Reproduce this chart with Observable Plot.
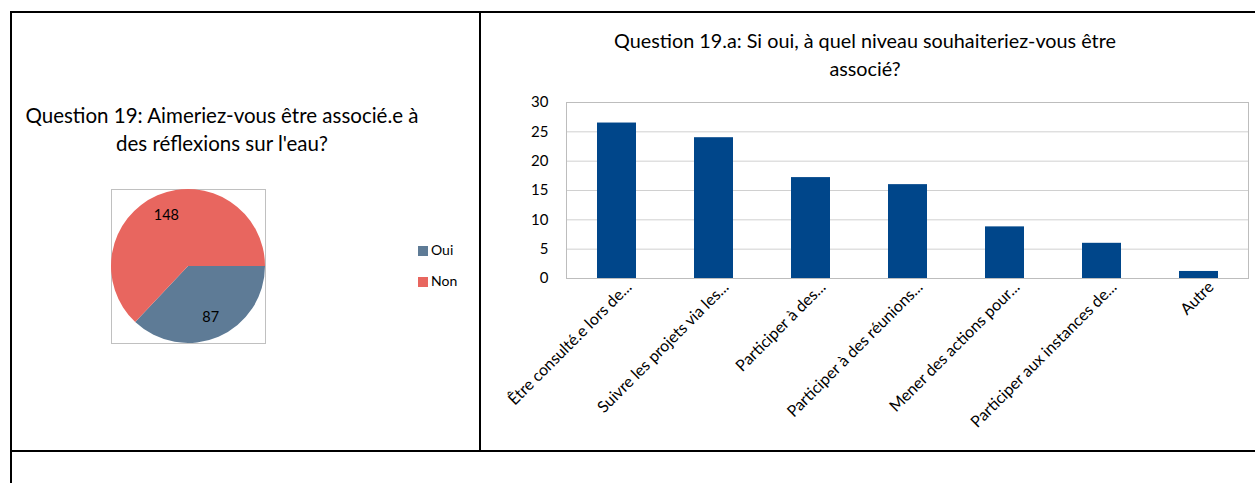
<!DOCTYPE html>
<html>
<head>
<meta charset="utf-8">
<script src="https://cdn.jsdelivr.net/npm/d3@7"></script>
<script src="https://cdn.jsdelivr.net/npm/@observablehq/plot@0.6"></script>
<style>
  html, body { margin: 0; padding: 0; background: #fff; }
  body { width: 1255px; height: 483px; position: relative; overflow: hidden; font-family: Lato, "Open Sans", sans-serif; color: #000; }
  .line { position: absolute; background: #000; }
  .title { position: absolute; text-align: center; line-height: 28px; white-space: nowrap; }
  .abs { position: absolute; }
  .legend { position: absolute; font-size: 14px; }
  .legend .item { position: absolute; white-space: nowrap; }
  .legend .sw { display: inline-block; width: 10px; height: 10px; margin-right: 3px; vertical-align: -1px; }
</style>
</head>
<body>
<div class="line" style="left:10px; top:11px; width:1245px; height:2px;"></div>
<div class="line" style="left:10px; top:11px; width:2px; height:472px;"></div>
<div class="line" style="left:479px; top:11px; width:2px; height:441px;"></div>
<div class="line" style="left:10px; top:450px; width:1245px; height:2px;"></div>

<div class="title" style="left:22px; width:400px; top:101px; font-size:20.5px;">Question 19: Aimeriez-vous être associé.e à<br>des réflexions sur l'eau?</div>
<div class="title" style="left:565px; width:600px; top:26px; font-size:19.8px;">Question 19.a: Si oui, à quel niveau souhaiteriez-vous être<br>associé?</div>

<div id="pie" class="abs" style="left:111px; top:189px;"></div>
<div id="legend" class="legend" style="left:418px; top:0px;"></div>
<div id="bars" class="abs" style="left:480px; top:90px;"></div>

<script>
// ---- Data ----
const pieLabels = ["Oui", "Non"];
const pieValues = [87, 148];
const pieColors = ["#5E7B96", "#E8665F"];

const categories = [
  "Être consulté.e lors de...",
  "Suivre les projets via les...",
  "Participer à des...",
  "Participer à des réunions...",
  "Mener des actions pour...",
  "Participer aux instances de...",
  "Autre"
];
const values = [26.5, 24.0, 17.2, 16.0, 8.8, 6.0, 1.2];
const yTicks = [0, 5, 10, 15, 20, 25, 30];

// ---- Pie ----
const arcs = d3.pie().sort(null).startAngle(Math.PI / 2).endAngle(Math.PI * 2.5)(pieValues);
const labelArc = d3.arc().innerRadius(0).outerRadius(1.45);
const pieData = arcs.map((a, i) => {
  const c = labelArc.centroid(a);
  return { label: pieLabels[i], value: pieValues[i], a, cx: c[0], cy: -c[1], color: pieColors[i] };
});

function pieSlices(index, scales) {
  const cx = scales.x(0), cy = scales.y(0), r = scales.x(1) - scales.x(0);
  const arc = d3.arc().innerRadius(0).outerRadius(r);
  const g = d3.create("svg:g").attr("transform", `translate(${cx},${cy})`);
  g.selectAll("path").data(pieData).join("path")
    .attr("d", d => arc(d.a))
    .attr("fill", d => d.color);
  return g.node();
}

const pie = Plot.plot({
  width: 154, height: 154,
  margin: 0,
  x: { domain: [-1, 1], axis: null },
  y: { domain: [-1, 1], axis: null },
  style: { fontFamily: "Lato, 'Open Sans', sans-serif", background: "transparent", overflow: "visible" },
  marks: [
    Plot.frame({ stroke: "#c0c0c0" }),
    pieSlices,
    Plot.text(pieData, { x: "cx", y: "cy", text: d => String(d.value), fontSize: 14.5, fill: "#000" })
  ]
});
document.getElementById("pie").appendChild(pie);

// legend
const legend = document.getElementById("legend");
const legendTops = [241, 272];
pieLabels.forEach((l, i) => {
  const it = document.createElement("div");
  it.className = "item";
  it.style.top = legendTops[i] + "px";
  it.innerHTML = `<span class="sw" style="background:${pieColors[i]}"></span>${l}`;
  legend.appendChild(it);
});

// ---- Bars ----
const barData = categories.map((c, i) => ({ cat: c, value: values[i] }));
const bars = Plot.plot({
  width: 775, height: 360,
  marginLeft: 86, marginRight: 7, marginTop: 12, marginBottom: 172,
  x: { domain: categories, paddingInner: 0.6, paddingOuter: 0.3, label: null },
  y: { domain: [0, 30], label: null },
  style: { fontFamily: "Lato, 'Open Sans', sans-serif", background: "transparent", overflow: "visible", color: "#000" },
  marks: [
    Plot.gridY(yTicks, { stroke: "#d0d0d0", strokeOpacity: 1 }),
    Plot.barY(barData, { x: "cat", y: "value", fill: "#00468A" }),
    Plot.frame({ stroke: "#bdbdbd" }),
    Plot.axisY(yTicks, { tickSize: 0, tickPadding: 18, fontSize: 15, label: null }),
    Plot.axisX({ tickSize: 0, tickRotate: -45, tickPadding: 6, dx: 12, fontSize: 16, label: null })
  ]
});
document.getElementById("bars").appendChild(bars);
</script>
</body>
</html>
